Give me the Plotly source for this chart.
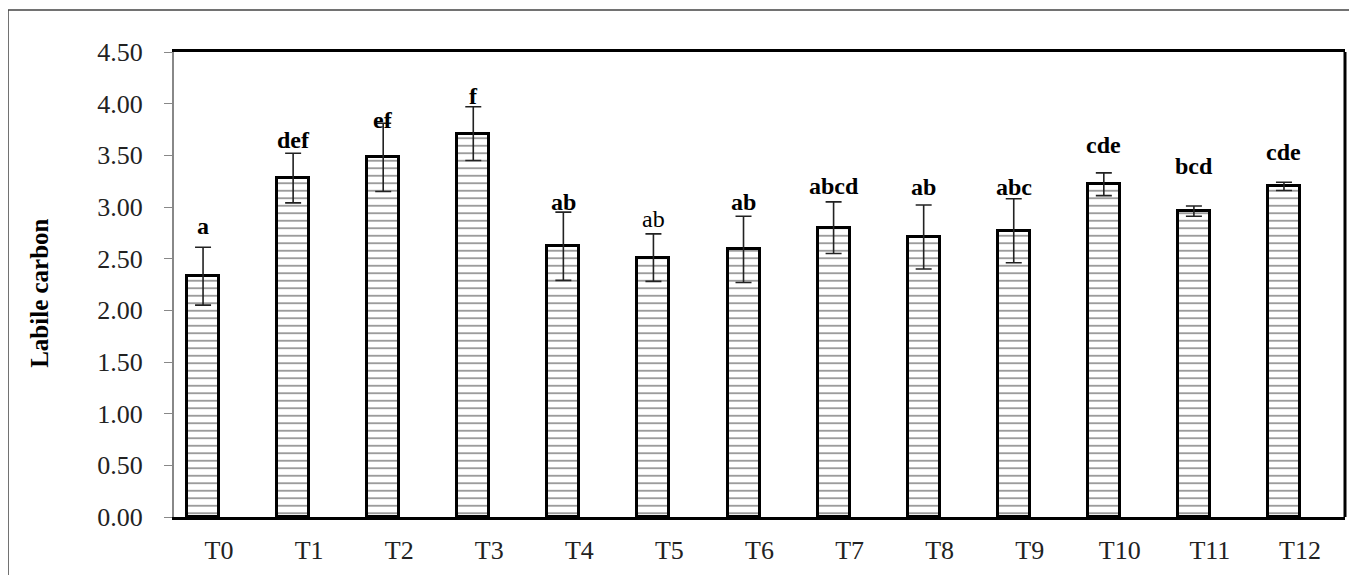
import plotly.graph_objects as go

# ---- data ----
treatments = ["T0", "T1", "T2", "T3", "T4", "T5", "T6", "T7", "T8", "T9", "T10", "T11", "T12"]
labile_carbon = [2.33, 3.28, 3.48, 3.71, 2.62, 2.51, 2.59, 2.80, 2.71, 2.77, 3.22, 2.96, 3.20]
error = [0.28, 0.24, 0.33, 0.26, 0.33, 0.23, 0.32, 0.25, 0.31, 0.31, 0.11, 0.05, 0.04]
letters = ["a", "def", "ef", "f", "ab", "ab", "ab", "abcd", "ab", "abc", "cde", "bcd", "cde"]
letter_y = [2.82, 3.65, 3.84, 4.07, 3.05, 2.88, 3.05, 3.20, 3.19, 3.19, 3.60, 3.40, 3.53]
plain_letters = {5}  # index of the non-bold letter label
y_ticks = [0.0, 0.5, 1.0, 1.5, 2.0, 2.5, 3.0, 3.5, 4.0, 4.5]

# page body has an 8px margin, so figure coords = screen coords - 8
OFF = 8
W, H = 1357, 575
L, T = 174 - OFF, 52 - OFF
pw, ph = 1171, 465.5
R = W - L - pw
B = H - T - ph

BAR_W = 0.355
SERIF = "Liberation Serif"

xs = list(range(len(treatments)))

fig = go.Figure()
fig.add_trace(go.Bar(
    x=xs,
    y=labile_carbon,
    width=BAR_W,
    offset=-BAR_W,
    marker=dict(
        color="white",
        line=dict(color="black", width=3),
        pattern=dict(shape="-", fgcolor="#3a3a3a", bgcolor="white", size=7.5, solidity=0.25),
    ),
    error_y=dict(type="data", array=error, visible=True, color="#222222", thickness=1.6, width=8),
    showlegend=False,
))

for i, (lab, ly) in enumerate(zip(letters, letter_y)):
    bold = i not in plain_letters
    fig.add_annotation(
        x=xs[i] - BAR_W / 2, y=ly, xref="x", yref="y",
        text=f"<b>{lab}</b>" if bold else lab,
        showarrow=False,
        font=dict(family=SERIF, size=24, color="black"),
        xanchor="center", yanchor="middle",
    )

# y-axis title
fig.add_annotation(
    x=(40 - OFF - L) / pw, y=0.48, xref="paper", yref="paper",
    text="<b>Labile carbon</b>", textangle=-90, showarrow=False,
    font=dict(family=SERIF, size=25, color="black"),
    xanchor="center", yanchor="middle",
)

# right border of plot area (black)
fig.add_shape(type="line", xref="paper", yref="paper", x0=1, x1=1, y0=0, y1=1,
              line=dict(color="black", width=3))
# outer chart-area border
fig.add_shape(type="rect", xref="paper", yref="paper",
              x0=(8 - OFF - L) / pw, x1=1.2, y0=-0.3, y1=(T + ph - (10 - OFF)) / ph,
              line=dict(color="#444444", width=1.5), fillcolor="rgba(0,0,0,0)")

fig.update_layout(
    width=W, height=H,
    margin=dict(l=L, r=R, t=T, b=B, pad=0),
    paper_bgcolor="white", plot_bgcolor="white",
    bargap=0,
)
fig.update_xaxes(
    range=[-0.5, len(treatments) - 0.5],
    tickmode="array", tickvals=xs, ticktext=treatments,
    showgrid=False, zeroline=False,
    showline=True, linecolor="black", linewidth=2.5, mirror=True,
    ticks="", ticklabelstandoff=8,
    tickfont=dict(family=SERIF, size=26, color="#222222"),
)
fig.update_yaxes(
    range=[0, 4.5],
    tickmode="array", tickvals=y_ticks, ticktext=[f"{v:.2f}" for v in y_ticks],
    showgrid=False, zeroline=False,
    showline=True, linecolor="#888888", linewidth=2,
    ticks="outside", ticklen=8, tickwidth=1.2, tickcolor="#888888",
    ticklabelstandoff=16,
    tickfont=dict(family=SERIF, size=26, color="#222222"),
)

fig.write_html("out.html")
